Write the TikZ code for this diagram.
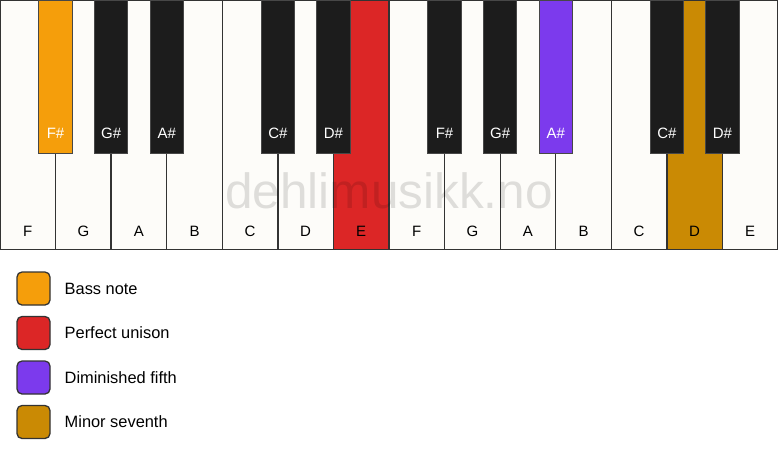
\documentclass[tikz,border=0pt]{standalone}
\usepackage{fontspec}
\setmainfont{Liberation Sans}
\definecolor{keywhite}{HTML}{FDFCF9}
\definecolor{keyblack}{HTML}{1C1C1C}
\definecolor{keyline}{HTML}{333333}
\definecolor{cbass}{HTML}{F59E0B}
\definecolor{cuni}{HTML}{DC2626}
\definecolor{cdim}{HTML}{7C3AED}
\definecolor{csev}{HTML}{CA8A04}
\begin{document}
\begin{tikzpicture}[x=1pt,y=-1pt,
  whitekey/.style={draw=keyline,line width=1.3pt,minimum width=55.5714pt,minimum height=249pt,inner sep=0pt,outer sep=0pt},
  blackkey/.style={draw=keyline!90!white,line width=1pt,minimum width=33.3pt,minimum height=153pt,inner sep=0pt,outer sep=0pt},
  wlabel/.style={font=\fontsize{15}{18}\selectfont,text=black,inner sep=0pt},
  blabel/.style={font=\fontsize{15}{18}\selectfont,text=white,inner sep=0pt},
  legbox/.style={draw=keyline,line width=1.3pt,rounded corners=5pt,minimum width=33pt,minimum height=33pt,inner sep=0pt},
  legtext/.style={font=\fontsize{16.4}{19}\selectfont,anchor=west,inner sep=0pt},
  wmark/.style={font=\fontsize{49.5}{55}\selectfont,text=black,text opacity=0.12,anchor=base,inner sep=0pt}
]
\useasboundingbox (0,0) rectangle (778,461);
\fill[white] (0,0) rectangle (778,461);
\def\W{55.5714}
% white keys
\foreach \i/\n/\c in {0/F/keywhite,1/G/keywhite,2/A/keywhite,3/B/keywhite,4/C/keywhite,5/D/keywhite,6/E/cuni,7/F/keywhite,8/G/keywhite,9/A/keywhite,10/B/keywhite,11/C/keywhite,12/D/csev,13/E/keywhite}{
  \node[whitekey,fill=\c] (w\i) at ({(\i+0.5)*\W},125) {};
  \node[wlabel] (wl\i) at ({(\i+0.5)*\W},231) {\n};
}
% watermark
\node[wmark] (wm) at (389,208) {dehlimusikk.no};
% black keys
\foreach \i/\n/\c in {1/F\#/cbass,2/G\#/keyblack,3/A\#/keyblack,5/C\#/keyblack,6/D\#/keyblack,8/F\#/keyblack,9/G\#/keyblack,10/A\#/cdim,12/C\#/keyblack,13/D\#/keyblack}{
  \node[blackkey,fill=\c] (b\i) at ({\i*\W},76.5) {};
  \node[blabel] (bl\i) at ({\i*\W},133) {\n};
}
% legend
\foreach \k/\c/\t/\y in {1/cbass/Bass note/288.5,2/cuni/Perfect unison/333,3/cdim/Diminished fifth/377.5,4/csev/Minor seventh/422}{
  \node[legbox,fill=\c] (lb\k) at (33.5,\y) {};
  \node[legtext] (lt\k) at (64.5,\y) {\t};
}
\end{tikzpicture}
\end{document}
